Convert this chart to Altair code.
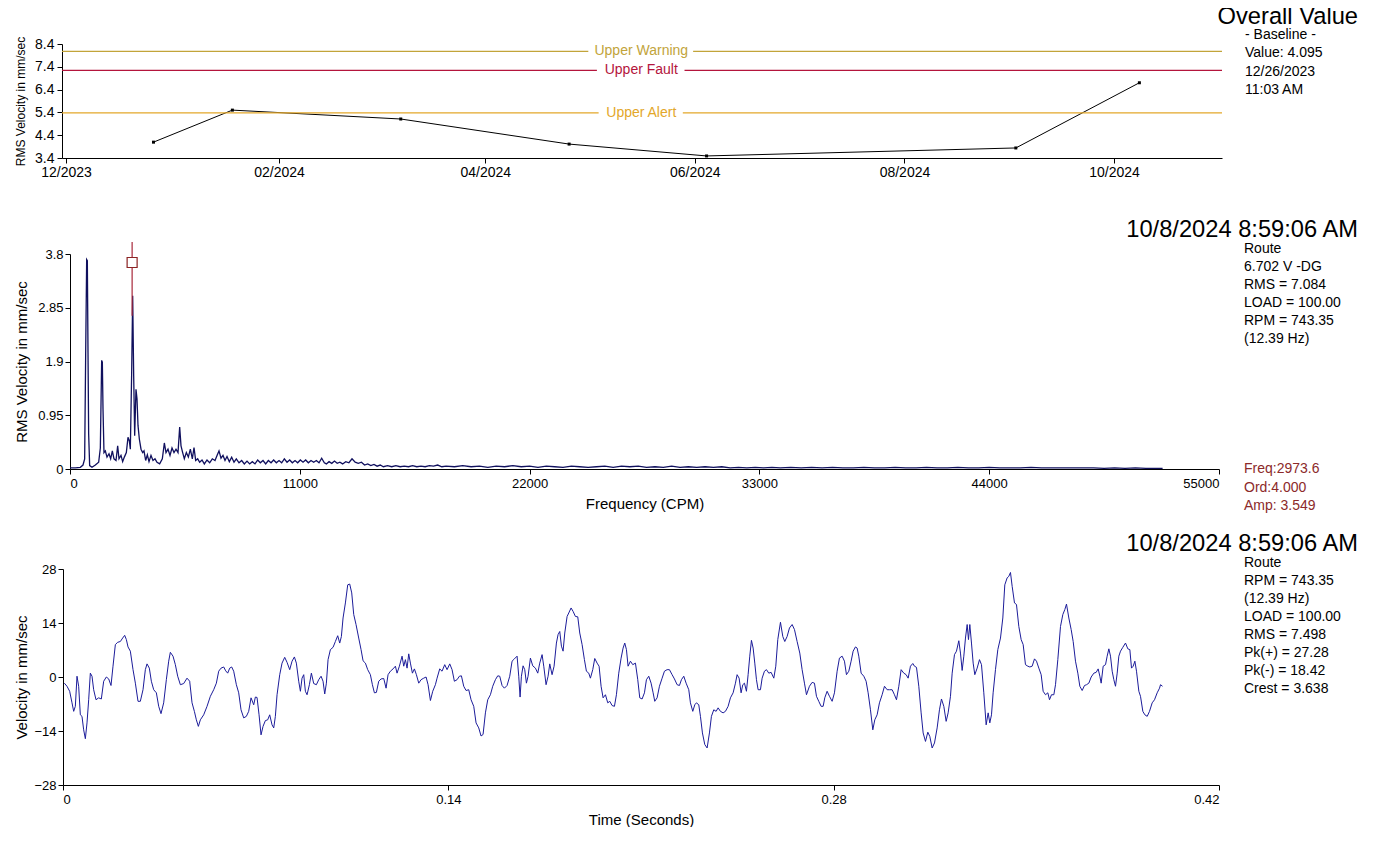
import altair as alt
import pandas as pd

FONT = "Liberation Sans"

# ---------------- Top panel: overall value trend ----------------
trend_dates = ["2023-12-26T11:03:00", "2024-01-18T10:00:00", "2024-03-07T10:00:00",
               "2024-04-25T10:00:00", "2024-06-04T10:00:00", "2024-09-02T10:00:00",
               "2024-10-08T08:59:06"]
trend_values = [4.095, 5.50, 5.11, 4.01, 3.49, 3.84, 6.70]

thr_names = ["Upper Warning", "Upper Fault", "Upper Alert"]
thr_values = [8.08, 7.24, 5.38]
thr_colors = ["#C2A43A", "#B4153C", "#E3A72A"]
thr_gap_start = ["2024-05-01T00:00:00", "2024-05-03T12:00:00", "2024-05-04T00:00:00"]
thr_gap_end = ["2024-05-31T12:00:00", "2024-05-29T00:00:00", "2024-05-28T12:00:00"]
thr_label_at = "2024-05-16T10:00:00"
trend_start = "2023-11-29T20:00:00"
trend_end = "2024-11-01T10:00:00"

top_title = "Overall Value"
top_info = ["- Baseline -", "Value: 4.095", "12/26/2023", "11:03 AM"]

# ---------------- Middle panel: spectrum ----------------
spectrum_points = [
    (0, 0.02), (96, 0.02), (255, 0.02), (495, 0.03), (622, 0.07), (702, 0.18), (750, 2.03),
    (798, 3.70), (830, 3.68), (862, 2.06), (893, 0.62), (941, 0.06), (1053, 0.03), (1213, 0.07),
    (1372, 0.12), (1452, 0.37), (1516, 1.92), (1548, 1.89), (1580, 1.06), (1627, 0.29),
    (1691, 0.32), (1771, 0.21), (1867, 0.27), (1947, 0.18), (2026, 0.32), (2106, 0.18),
    (2202, 0.15), (2282, 0.41), (2345, 0.18), (2441, 0.24), (2521, 0.13), (2601, 0.21),
    (2697, 0.29), (2776, 0.56), (2840, 0.50), (2888, 0.35), (2952, 1.71), (3000, 3.06),
    (3048, 1.65), (3096, 0.59), (3159, 1.41), (3207, 1.24), (3255, 0.77), (3319, 0.53),
    (3399, 0.35), (3478, 0.29), (3542, 0.32), (3622, 0.15), (3702, 0.25), (3782, 0.13),
    (3877, 0.24), (3973, 0.15), (4069, 0.18), (4165, 0.12), (4292, 0.09), (4420, 0.18),
    (4516, 0.46), (4595, 0.29), (4691, 0.35), (4787, 0.24), (4883, 0.37), (4978, 0.29),
    (5074, 0.35), (5170, 0.29), (5250, 0.74), (5314, 0.41), (5393, 0.29), (5473, 0.18),
    (5569, 0.29), (5665, 0.21), (5761, 0.35), (5856, 0.18), (5936, 0.38), (6016, 0.15),
    (6112, 0.18), (6207, 0.12), (6319, 0.16), (6430, 0.09), (6558, 0.16), (6686, 0.11),
    (6813, 0.18), (6941, 0.15), (7053, 0.25), (7133, 0.32), (7228, 0.19), (7324, 0.24),
    (7420, 0.15), (7516, 0.22), (7627, 0.13), (7739, 0.21), (7851, 0.12), (7962, 0.18),
    (8090, 0.11), (8218, 0.15), (8345, 0.09), (8473, 0.14), (8601, 0.09), (8728, 0.13),
    (8856, 0.09), (8984, 0.16), (9111, 0.11), (9239, 0.15), (9367, 0.09), (9494, 0.15),
    (9622, 0.11), (9749, 0.16), (9877, 0.11), (10005, 0.15), (10132, 0.11), (10260, 0.18),
    (10388, 0.12), (10515, 0.16), (10643, 0.11), (10771, 0.15), (10898, 0.11), (11026, 0.16),
    (11154, 0.12), (11281, 0.16), (11409, 0.11), (11537, 0.15), (11664, 0.12), (11792, 0.15),
    (11920, 0.11), (12047, 0.19), (12175, 0.11), (12271, 0.09), (12400, 0.13), (12530, 0.10),
    (12660, 0.14), (12790, 0.10), (12920, 0.12), (13050, 0.09), (13200, 0.13), (13350, 0.11),
    (13500, 0.18), (13650, 0.12), (13800, 0.10), (13950, 0.12), (14100, 0.07), (14250, 0.09),
    (14400, 0.06), (14550, 0.08), (14700, 0.05), (14850, 0.07), (15000, 0.04), (15200, 0.06),
    (15400, 0.04), (15600, 0.06), (15800, 0.04), (16000, 0.05), (16200, 0.04), (16400, 0.06),
    (16600, 0.04), (16800, 0.05), (17000, 0.04), (17200, 0.06), (17400, 0.05), (17600, 0.07),
    (17800, 0.04), (18000, 0.05), (18400, 0.04), (18800, 0.06), (19200, 0.04), (19600, 0.05),
    (20000, 0.03), (20400, 0.05), (20800, 0.04), (21200, 0.06), (21600, 0.04), (22000, 0.05),
    (22400, 0.03), (22800, 0.05), (23200, 0.04), (23600, 0.03), (24000, 0.05), (24400, 0.04),
    (24800, 0.03), (25200, 0.04), (25600, 0.05), (26000, 0.03), (26400, 0.05), (26800, 0.04),
    (27200, 0.05), (27600, 0.03), (28000, 0.04), (28400, 0.03), (28800, 0.05), (29200, 0.03),
    (29600, 0.04), (30000, 0.03), (30400, 0.04), (30800, 0.03), (31200, 0.04), (31600, 0.02),
    (32000, 0.03), (32400, 0.02), (32800, 0.03), (33200, 0.02), (33600, 0.03), (34000, 0.02),
    (34500, 0.03), (35000, 0.02), (35500, 0.03), (36000, 0.02), (36500, 0.03), (37000, 0.02),
    (37500, 0.02), (38000, 0.03), (38500, 0.02), (39000, 0.02), (39500, 0.03), (40000, 0.02),
    (40500, 0.02), (41000, 0.03), (41500, 0.02), (42000, 0.02), (42500, 0.03), (43000, 0.02),
    (43500, 0.02), (44000, 0.03), (44500, 0.02), (45000, 0.02), (45500, 0.02), (46000, 0.03),
    (46500, 0.02), (47000, 0.02), (47500, 0.02), (48000, 0.02), (48500, 0.02), (49000, 0.02),
    (49500, 0.01), (50000, 0.02), (50500, 0.01), (51000, 0.02), (51500, 0.01), (52000, 0.01),
    (52300, 0.01),
]
cursor_freq = 2973.6
cursor_amp_marker = 3.65
cursor_low, cursor_high = 2.71, 4.01
spec_title = "10/8/2024 8:59:06 AM"
spec_info = ["Route", "6.702 V -DG", "RMS = 7.084", "LOAD = 100.00", "RPM = 743.35", "(12.39 Hz)"]
spec_cursor_info = ["Freq:2973.6", "Ord:4.000", "Amp: 3.549"]
spec_x_ticks = [0, 11000, 22000, 33000, 44000, 55000]
spec_y_ticks = [0, 0.95, 1.9, 2.85, 3.8]

# ---------------- Bottom panel: waveform (time in ms, velocity) ----------------
waveform_points = [
    (0.49, -1.6), (1.45, -2.4), (2.42, -3.7), (3.27, -6.7), (3.88, -8.9), (4.48, -7.6), (5.09, 0.2),
    (5.69, -2.4), (6.30, -9.8), (6.90, -10.2), (7.51, -13.7), (8.12, -16.0), (8.72, -11.9),
    (9.33, -5.9), (9.93, 1.0), (10.54, 0.2), (11.14, -3.3), (11.99, -5.9), (12.96, -5.4),
    (13.93, -5.7), (14.78, -1.1), (15.75, 0.0), (16.60, -0.5), (17.44, -2.2), (18.17, 2.8),
    (19.02, 8.4), (19.87, 9.0), (20.83, 9.2), (21.68, 10.1), (22.41, 10.8), (23.02, 9.7),
    (23.62, 7.8), (24.47, 6.7), (25.44, 1.9), (26.29, -1.6), (27.25, -6.3), (28.10, -6.3),
    (29.07, -3.3), (29.92, 1.9), (30.53, 3.4), (31.37, 2.3), (32.10, -1.1), (32.95, -3.3),
    (33.92, -4.1), (34.77, -7.6), (35.61, -9.5), (36.58, -6.7), (37.55, -0.7), (38.40, 4.1),
    (39.00, 6.4), (39.97, 5.4), (40.82, 3.2), (41.67, 0.2), (42.64, -2.0), (43.85, -1.7),
    (45.06, -0.3), (46.03, -1.1), (46.88, -6.7), (47.73, -8.9), (48.45, -11.1), (49.18, -12.8),
    (49.91, -11.1), (51.12, -9.8), (52.33, -7.6), (53.54, -5.0), (54.75, -3.3), (55.72, -1.6),
    (56.57, 1.5), (57.42, 2.3), (58.39, 2.6), (59.11, 1.6), (59.84, 1.0), (60.57, 2.3),
    (61.29, 2.6), (62.02, 1.5), (62.99, -2.0), (63.84, -4.1), (64.68, -8.5), (65.65, -10.6),
    (66.62, -10.2), (67.47, -8.9), (68.32, -5.4), (69.29, -7.2), (69.89, -5.2), (70.50, -5.3),
    (71.23, -9.8), (71.95, -15.0), (72.68, -12.8), (73.53, -11.3), (74.37, -11.1), (75.10, -9.8),
    (75.95, -12.4), (76.56, -13.2), (77.16, -10.2), (77.77, -4.6), (78.74, 0.6), (79.58, 3.6),
    (80.55, 5.1), (81.40, 3.8), (82.37, 1.9), (83.22, 4.1), (84.07, 5.2), (84.79, 3.6),
    (85.64, -1.1), (86.25, -3.7), (86.85, -0.3), (87.46, 0.6), (88.06, -3.7), (88.67, -4.6),
    (89.52, -2.0), (90.24, 1.0), (91.09, -1.7), (92.06, -2.0), (92.91, -0.7), (93.76, 0.2),
    (94.48, -1.1), (95.09, -4.4), (95.69, -1.6), (96.30, 4.5), (97.15, 7.1), (98.12, 7.7),
    (98.96, 9.2), (99.81, 10.7), (100.54, 8.8), (101.14, 10.5), (101.75, 15.3), (102.60, 19.2),
    (103.45, 23.9), (104.17, 24.1), (104.90, 21.8), (105.63, 16.2), (106.47, 13.6), (107.44, 10.1),
    (108.29, 7.1), (109.02, 4.2), (109.87, 3.6), (110.71, 1.9), (111.68, 0.6), (112.41, -2.0),
    (113.14, -4.1), (113.86, -4.0), (114.71, -1.1), (115.56, -0.5), (116.53, -0.4), (117.38, -2.9),
    (118.10, 0.6), (118.95, 1.5), (119.92, 2.1), (120.77, 2.8), (121.37, 1.0), (122.22, 2.8),
    (123.19, 5.4), (123.80, 2.8), (124.40, 4.5), (125.01, 2.3), (125.61, 6.0), (126.22, 3.6),
    (126.95, 1.0), (127.67, 2.1), (128.40, 0.6), (129.25, -1.6), (130.09, -0.7), (131.06, -0.3),
    (131.91, 0.0), (132.64, -2.0), (133.49, -6.1), (134.33, -3.7), (135.30, -2.0), (135.91, -0.3),
    (136.87, 2.1), (137.72, 1.5), (138.69, 3.2), (139.54, 1.9), (140.51, 3.4), (141.36, 1.9),
    (142.20, -1.1), (143.17, -0.7), (144.02, 0.2), (144.75, 0.3), (145.59, -2.4), (146.44, -3.5),
    (147.41, -3.3), (148.26, -5.9), (149.23, -7.6), (150.08, -11.9), (151.05, -13.2),
    (151.89, -15.3), (152.62, -14.9), (153.47, -9.3), (154.32, -5.9), (155.29, -4.6),
    (156.13, -2.4), (157.10, -0.7), (157.95, 0.3), (158.68, 0.2), (159.52, -2.2), (160.37, -2.9),
    (161.34, -2.2), (162.31, 0.2), (163.16, 4.1), (164.01, 4.7), (164.98, 5.4), (165.58, 0.2),
    (166.07, -5.2), (166.55, 0.2), (167.16, 2.9), (167.76, 1.9), (168.37, -1.6), (168.97, 0.2),
    (169.82, 4.9), (170.67, 2.9), (171.64, 2.3), (172.49, 1.0), (173.21, 3.6), (174.06, 5.8),
    (174.67, 2.8), (175.51, -2.0), (176.24, 0.2), (176.85, 3.4), (177.69, 0.6), (178.42, 2.8),
    (179.27, 8.8), (179.87, 11.0), (180.48, 11.8), (181.09, 8.0), (181.69, 6.7), (182.30, 11.4),
    (183.15, 15.7), (183.75, 16.6), (184.60, 17.9), (185.33, 17.0), (186.17, 15.7), (187.02, 15.6),
    (187.75, 11.4), (188.60, 8.4), (189.44, 4.5), (190.17, 1.5), (191.02, 1.0), (191.62, -0.3),
    (192.47, 1.9), (193.20, 4.8), (194.05, 3.6), (194.77, 2.8), (195.50, -2.4), (196.23, -5.4),
    (197.08, -4.6), (197.92, -6.7), (198.65, -6.3), (199.50, -7.4), (200.35, -7.6), (201.07, -4.6),
    (201.92, 1.0), (202.77, 4.9), (203.49, 7.5), (204.10, 8.8), (204.71, 7.1), (205.31, 2.8),
    (206.16, 4.1), (207.01, 3.2), (207.98, 3.6), (208.82, -0.7), (209.55, -5.4), (210.40, -5.7),
    (211.25, -4.1), (211.97, -0.7), (212.82, 0.2), (213.67, -1.6), (214.40, -4.1), (215.00, -6.3),
    (215.85, -5.4), (216.70, -2.4), (217.67, -0.3), (218.52, 1.5), (219.48, 1.9), (220.33, 1.9),
    (221.30, 0.6), (222.15, -0.5), (223.12, -2.0), (223.97, -2.2), (224.69, -0.7), (225.54, 0.2),
    (226.39, -1.6), (227.36, -3.3), (227.96, -6.7), (228.81, -8.9), (229.54, -7.2), (230.14, -6.7),
    (230.99, -7.2), (231.60, -10.2), (232.32, -14.5), (233.17, -17.5), (234.02, -18.4),
    (234.87, -14.5), (235.59, -10.2), (236.44, -8.5), (237.29, -8.9), (238.02, -8.0),
    (238.86, -8.9), (239.83, -9.3), (240.68, -8.9), (241.65, -7.6), (242.50, -5.4), (243.47, -4.1),
    (244.32, -1.6), (244.92, 0.6), (245.65, -0.3), (246.37, -4.1), (246.98, -2.0), (247.59, -1.6),
    (248.31, -3.7), (248.92, 0.6), (249.52, 5.4), (250.13, 9.5), (250.74, 7.5), (251.34, 3.6),
    (251.95, -0.7), (252.55, -3.3), (253.40, -3.3), (254.01, -0.3), (254.85, 1.5), (255.58, 1.9),
    (256.43, 1.0), (257.28, 1.2), (258.25, -0.3), (258.97, 2.8), (259.70, 9.7), (260.67, 14.2),
    (261.52, 10.5), (262.24, 9.2), (263.09, 10.5), (263.94, 12.7), (264.91, 13.6), (265.76, 12.3),
    (266.72, 9.2), (267.69, 6.2), (268.54, 1.9), (269.39, -1.6), (270.12, -4.6),
    (271.20, -2.4), (272.17, -1.4), (273.02, -1.6), (273.75, -5.0), (274.59, -6.3), (275.44, -7.6),
    (276.17, -7.6), (276.77, -5.4), (277.62, -3.7), (278.47, -5.0), (279.44, -6.3), (280.29, -4.1),
    (281.26, 1.5), (282.10, 4.9), (283.07, 5.4), (283.92, 4.1), (284.65, 0.6), (285.50, 1.5),
    (286.34, 4.1), (287.07, 6.7), (287.92, 7.8), (288.52, 7.5), (289.13, 5.4), (289.98, 1.0),
    (290.95, 0.2), (291.79, -1.1), (292.52, -4.1), (293.37, -8.5), (294.22, -13.7), (294.94, -11.1),
    (295.79, -9.8), (296.64, -6.7), (297.61, -4.6), (298.46, -2.4), (299.43, -3.3), (300.27, -3.3),
    (301.24, -3.3), (302.09, -4.6), (302.82, -5.9), (303.67, -2.4), (304.51, 1.9), (305.48, 1.0),
    (306.33, 0.6), (307.06, -0.3), (307.90, 2.8), (308.75, 3.5), (309.36, 2.8), (310.09, 2.5),
    (310.93, -2.4), (311.78, -9.3), (312.51, -14.5), (313.36, -16.7), (314.20, -14.3),
    (314.93, -15.4), (315.78, -18.4), (316.63, -17.1), (317.60, -13.2), (318.44, -8.5),
    (319.17, -5.7), (320.02, -7.6), (320.87, -11.5), (321.59, -9.3), (322.44, -5.0), (323.05, 1.0),
    (323.89, 5.8), (324.62, 6.7), (325.47, 9.4), (326.07, 6.2), (326.68, 1.7), (327.29, 5.4),
    (327.89, 10.1), (328.50, 13.6), (328.98, 9.7), (329.47, 13.6), (330.07, 8.8), (330.68, 3.6),
    (331.28, 0.6), (332.13, 2.3), (332.98, 4.5), (333.71, 3.2), (334.55, -4.1), (335.40, -12.4),
    (336.13, -9.3), (336.73, -11.9), (337.34, -9.8), (337.94, -4.1), (338.79, 1.9), (339.64, 7.1),
    (340.61, 10.1), (341.46, 15.3), (342.18, 23.9), (343.03, 25.7), (343.64, 26.1), (344.24, 27.1),
    (344.85, 23.5), (345.70, 19.2), (346.42, 18.8), (347.27, 13.1), (348.12, 9.7), (348.85, 8.4),
    (349.69, 3.2), (350.54, 2.8), (351.27, 2.6), (352.12, 2.8), (352.97, 4.7), (353.69, 4.1),
    (354.54, 2.3), (355.39, 0.6), (356.11, -3.7), (356.96, -4.6), (357.81, -4.1), (358.42, -5.9),
    (359.14, -4.6), (359.99, -4.6), (360.60, -2.0), (361.44, 4.5), (362.41, 13.1), (363.26, 16.2),
    (363.99, 17.5), (364.59, 18.9), (365.44, 15.3), (366.29, 12.3), (367.02, 9.2), (367.86, 4.1),
    (368.71, 1.0), (369.44, -2.4), (370.29, -3.5), (371.13, -2.2), (371.86, -2.0), (372.71, -1.6),
    (373.56, 0.0), (374.53, 1.0), (375.37, 1.2), (376.10, 2.1), (376.71, 0.2), (377.19, -1.6),
    (377.92, 2.8), (378.77, 3.2), (379.37, 5.4), (379.98, 7.3), (380.58, 5.4), (381.19, 1.5),
    (381.79, -0.7), (382.40, -2.4), (383.01, 1.0), (383.61, 5.4), (384.22, 6.7), (385.06, 7.7),
    (386.03, 8.8), (386.88, 7.3), (387.61, 7.1), (388.21, 2.3), (388.82, 2.8), (389.43, 4.1),
    (390.03, 1.5), (390.88, -3.7), (391.48, -5.0), (392.33, -8.9), (393.06, -9.8), (393.91, -10.2),
    (394.75, -8.9), (395.72, -6.7), (396.57, -5.9), (397.54, -4.1), (398.39, -2.9), (398.75, -2.0),
    (399.48, -2.4),
]
wave_title = "10/8/2024 8:59:06 AM"
wave_info = ["Route", "RPM = 743.35", "(12.39 Hz)", "LOAD = 100.00", "RMS = 7.498",
             "Pk(+) = 27.28", "Pk(-) = 18.42", "Crest = 3.638"]
wave_x_ticks = [0, 0.14, 0.28, 0.42]
wave_y_ticks = [-28, -14, 0, 14, 28]

# ---------------- build tables ----------------
trend_df = pd.DataFrame({"date": trend_dates, "value": trend_values})
seg_rows = []
for n, v, c, gs, ge in zip(thr_names, thr_values, thr_colors, thr_gap_start, thr_gap_end):
    seg_rows.append({"name": n, "value": v, "color": c, "date": trend_start, "end": gs})
    seg_rows.append({"name": n, "value": v, "color": c, "date": ge, "end": trend_end})
seg_df = pd.DataFrame(seg_rows)
lab_df = pd.DataFrame({"name": thr_names, "value": thr_values, "color": thr_colors,
                       "date": [thr_label_at] * 3})
spec_df = pd.DataFrame(spectrum_points, columns=["freq", "amp"])
cursor_df = pd.DataFrame({"freq": [cursor_freq], "amp": [cursor_low], "hi": [cursor_high],
                          "mark": [cursor_amp_marker]})
wave_df = pd.DataFrame(waveform_points, columns=["t_ms", "vel"])
wave_df["t"] = wave_df["t_ms"] / 1000.0
one = pd.DataFrame({"k": [0]})

AX = dict(domainColor="black", tickColor="black", labelColor="black", titleColor="black",
          grid=False, labelFont=FONT, titleFont=FONT, titleFontWeight="normal", tickSize=5)


def text_block(lines, x, y, size=14, color="black", line_height=18):
    return alt.Chart(one).mark_text(align="left", baseline="top", font=FONT, fontSize=size,
                                    color=color, lineHeight=line_height).encode(
        x=alt.value(x), y=alt.value(y), text=alt.value(lines))


def big_title(txt, x, y, size=23.7):
    return alt.Chart(one).mark_text(align="right", baseline="alphabetic", font=FONT,
                                    fontSize=size, color="black").encode(
        x=alt.value(x), y=alt.value(y), text=alt.value(txt))


def spacer():
    # empty 1px cell so that every row starts at the same left edge
    return alt.Chart(one).mark_point(opacity=0).encode(
        x=alt.value(0), y=alt.value(0)).properties(width=1, height=1)


# ---------------- top ----------------
W1, H1 = 1160, 114
t_xscale = alt.Scale(domain=[alt.DateTime(year=2023, month=11, date=29, hours=20),
                             alt.DateTime(year=2024, month=11, date=1, hours=10)])
t_yscale = alt.Scale(domain=[3.4, 8.4], nice=False, zero=False)
t_xaxis = alt.Axis(values=[alt.DateTime(year=2023, month=12, date=1),
                           alt.DateTime(year=2024, month=2, date=1),
                           alt.DateTime(year=2024, month=4, date=1),
                           alt.DateTime(year=2024, month=6, date=1),
                           alt.DateTime(year=2024, month=8, date=1),
                           alt.DateTime(year=2024, month=10, date=1)],
                   format="%m/%Y", labelFontSize=14, labelPadding=2, title=None, **AX)
t_yaxis = alt.Axis(values=[3.4, 4.4, 5.4, 6.4, 7.4, 8.4], format=".1f", labelFontSize=14,
                   labelPadding=3, title="RMS Velocity in mm/sec", titleFontSize=12,
                   titlePadding=7, **AX)
tx = alt.X("date:T", scale=t_xscale, axis=t_xaxis)
ty = alt.Y("value:Q", scale=t_yscale, axis=t_yaxis)

tline = alt.Chart(trend_df).mark_line(color="black", strokeWidth=1).encode(x=tx, y=ty)
tpts = alt.Chart(trend_df).mark_square(color="black", size=9, opacity=1).encode(x=tx, y=ty)
segs = alt.Chart(seg_df).mark_rule(strokeWidth=1.2).encode(
    x=tx, x2="end:T", y=ty, color=alt.Color("color:N", scale=None))
labs = alt.Chart(lab_df).mark_text(font=FONT, fontSize=14, baseline="middle").encode(
    x=tx, y=ty, text="name:N", color=alt.Color("color:N", scale=None))
top = alt.layer(tline, segs, labs, tpts,
                big_title(top_title, W1 + 136, -20),
                text_block(top_info, W1 + 23, -16, line_height=18.3)).properties(width=W1, height=H1)

# ---------------- middle ----------------
W2, H2 = 1149, 215
s_xscale = alt.Scale(domain=[0, 55000], nice=False)
s_yscale = alt.Scale(domain=[0, 3.8], nice=False)
s_xaxis = alt.Axis(values=spec_x_ticks, format="d", labelFontSize=13, labelPadding=3,
                   title="Frequency (CPM)", titleFontSize=15, titlePadding=6, **AX)
s_yaxis = alt.Axis(values=spec_y_ticks, labelExpr="'' + datum.value", labelFontSize=13,
                   labelPadding=2, title="RMS Velocity in mm/sec", titleFontSize=15,
                   titlePadding=8, **AX)
sx = alt.X("freq:Q", scale=s_xscale, axis=s_xaxis)
sy = alt.Y("amp:Q", scale=s_yscale, axis=s_yaxis)
sline = alt.Chart(spec_df).mark_line(color="#10105e", strokeWidth=1.3).encode(x=sx, y=sy)
crule = alt.Chart(cursor_df).mark_rule(color="#A8283A", strokeWidth=1.2).encode(
    x=sx, y=sy, y2="hi:Q")
csq = alt.Chart(cursor_df).mark_square(size=100, fill="white", stroke="#8B2323", strokeWidth=1.2,
                                       opacity=1, filled=False).encode(
    x=sx, y=alt.Y("mark:Q", scale=s_yscale, axis=s_yaxis))
mid = alt.layer(sline, crule, csq,
                big_title(spec_title, W2 + 139, -17),
                text_block(spec_info, W2 + 25, -12),
                text_block(spec_cursor_info, W2 + 25, 208, color="#8C2A2A", line_height=18.5)
                ).properties(width=W2, height=H2)

# ---------------- bottom ----------------
W3, H3 = 1156, 216
w_xscale = alt.Scale(domain=[0, 0.42], nice=False)
w_yscale = alt.Scale(domain=[-28, 28], nice=False)
wx = alt.X("t:Q", scale=w_xscale,
           axis=alt.Axis(values=wave_x_ticks, labelExpr="'' + datum.value", labelFontSize=13,
                         labelPadding=3, title="Time (Seconds)", titleFontSize=15, titlePadding=6,
                         **AX))
wy = alt.Y("vel:Q", scale=w_yscale,
           axis=alt.Axis(values=wave_y_ticks, labelFontSize=13, labelPadding=2,
                         title="Velocity in mm/sec", titleFontSize=15, titlePadding=4, **AX))
wline = alt.Chart(wave_df).mark_line(color="#1c1c9a", strokeWidth=1).encode(x=wx, y=wy)
bot = alt.layer(wline,
                big_title(wave_title, W3 + 139, -18),
                text_block(wave_info, W3 + 25, -13)).properties(width=W3, height=H3)

row_top = alt.hconcat(spacer(), top, spacing=0)
row_mid = alt.hconcat(spacer(), mid, spacing=0)
row_bot = alt.hconcat(spacer(), bot, spacing=0)

chart = alt.vconcat(alt.vconcat(row_top, row_mid, spacing=39), row_bot, spacing=19).properties(
    padding={"left": 0, "top": -3, "right": 0, "bottom": 0}
).configure_view(stroke=None).configure_text(font=FONT)

chart.save("out.html", embed_options={"renderer": "svg", "actions": False})
